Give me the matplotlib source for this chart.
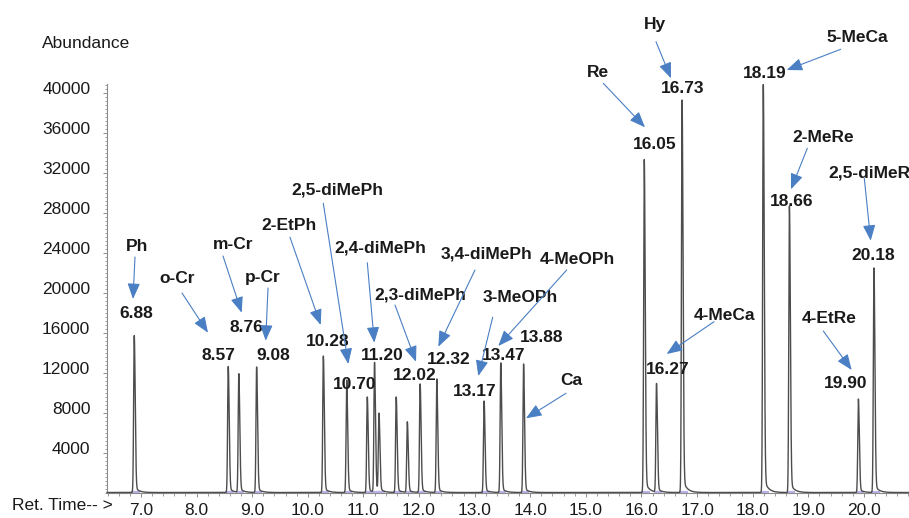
import numpy as np
import matplotlib
matplotlib.use("Agg")
import matplotlib.pyplot as plt
from matplotlib.transforms import ScaledTranslation
from matplotlib.ticker import MultipleLocator, FixedLocator

# ---------------- data ----------------
ret_times = [6.88, 8.57, 8.76, 9.08, 10.28, 10.70, 11.07, 11.20, 11.28, 11.59,
             11.79, 12.02, 12.32, 13.17, 13.47, 13.88, 16.05, 16.27, 16.73,
             18.19, 18.66, 19.90, 20.18]
abundances = [15700, 12600, 11850, 12550, 13650, 11250, 9550, 12950, 7750, 9550,
              7050, 10850, 11350, 9150, 12950, 12850, 33300, 10850, 39250,
              40800, 28650, 9350, 22450]

compounds = ["Ph", "o-Cr", "m-Cr", "p-Cr", "2-EtPh", "2,5-diMePh", "2,4-diMePh",
             "2,3-diMePh", "3,4-diMePh", "3-MeOPh", "4-MeOPh", "Ca", "Re",
             "4-MeCa", "Hy", "5-MeCa", "2-MeRe", "4-EtRe", "2,5-diMeR"]
compound_rt = [6.88, 8.57, 8.76, 9.08, 10.28, 10.70, 11.20, 12.02, 12.32, 13.17,
               13.47, 13.88, 16.05, 16.27, 16.73, 18.19, 18.66, 19.90, 20.18]

y_ticks = [4000, 8000, 12000, 16000, 20000, 24000, 28000, 32000, 36000, 40000]
x_ticks = [7.0, 8.0, 9.0, 10.0, 11.0, 12.0, 13.0, 14.0, 15.0, 16.0, 17.0, 18.0, 19.0, 20.0]

# ---------------- layout (reference pixel positions) ----------------
# name centre, number centre, arrow start, arrow tip
layout = [
    ((137, 245), (136.7, 311.7), (135, 257), (133, 299)),
    ((177, 277), (218.3, 353.3), (182, 293), (208, 332.7)),
    ((233, 243), (246, 326), (223, 256), (241.7, 312.7)),
    ((263, 276), (273, 353.3), (268, 288), (265.7, 340.7)),
    ((289, 224), (328, 339.3), (290, 237.3), (320.7, 325)),
    ((337, 188), (355, 382.7), (323.3, 203.3), (348.3, 364)),
    ((380, 246.7), (382, 353.3), (367.3, 262.7), (374.3, 342.7)),
    ((420, 293.3), (415, 373.3), (395, 305), (416, 361.7)),
    ((486.7, 252.7), (448.3, 358.3), (475, 270), (438.3, 346.7)),
    ((520.5, 296), (475, 389.3), (492.7, 317.3), (478.3, 376)),
    ((577.5, 258.3), (504, 354.3), (566.7, 270), (498.3, 346)),
    ((571, 379), (541.3, 336), (566, 393.3), (526, 418.3)),
    ((597.5, 70.7), (655, 142.7), (603.3, 83.3), (645, 127.3)),
    ((725, 313.3), (667.8, 367.3), (714, 321.7), (666.7, 354)),
    ((655, 23.3), (682.7, 86.7), (656, 41.7), (671, 78.3)),
    ((857, 36), (764.3, 71.7), (840.7, 49.3), (786.7, 70)),
    ((823.5, 136), (791.3, 199.3), (807.3, 148.3), (791, 189.3)),
    ((829.5, 316.7), (846, 381.7), (823.3, 331), (851.7, 370)),
    ((869, 171.7), (873, 253.3), (864.3, 178.3), (870.7, 240.7)),
]

W, H, DPI = 909, 518, 100
XMIN, XMAX = 6.39, 20.81
YMIN, YMAX = 0, 40850
AX_L, AX_B, AX_T = 107, 492.5, 84   # pixel positions of axes edges


def P(px, py):
    """reference pixel -> data coordinates"""
    x = XMIN + (px - AX_L) / (W - AX_L) * (XMAX - XMIN)
    y = YMIN + (AX_B - py) / (AX_B - AX_T) * (YMAX - YMIN)
    return x, y


plt.rcParams["font.family"] = ["Liberation Sans", "DejaVu Sans"]
fig = plt.figure(figsize=(W / DPI, H / DPI), dpi=DPI)
fig.patch.set_facecolor("white")
ax = fig.add_axes([AX_L / W, (H - AX_B) / H, 1 - AX_L / W, (AX_B - AX_T) / H])

# chromatogram trace built from the peak table
t = np.linspace(XMIN, XMAX, 30000)
trace = np.zeros_like(t)
for rt, h in zip(ret_times, abundances):
    d = t - rt
    left = np.exp(-0.5 * (d / 0.011) ** 2)
    right = np.exp(-0.5 * (d / 0.017) ** 2) * 0.96 + 0.04 * np.exp(-np.clip(d, 0, None) / 0.07)
    shape = np.where(d < 0, left, right)
    shape[d < -0.15] = 0
    shape[d > 0.4] = 0
    trace += h * shape
ax.plot(t, trace, color="#4d4d4d", lw=1.0, clip_on=False, zorder=3)

# faint integration markers at the baseline
for rt in ret_times:
    ax.plot([rt - 0.05, rt + 0.1], [60, 60], color="#b9b2e6", lw=1.6,
            solid_capstyle="butt", zorder=2, clip_on=False)

ax.set_xlim(XMIN, XMAX)
ax.set_ylim(YMIN, YMAX)

for s in ["top", "right"]:
    ax.spines[s].set_visible(False)
for s in ["left", "bottom"]:
    ax.spines[s].set_color("#8c8c8c")
    ax.spines[s].set_linewidth(0.8)

ax.xaxis.set_major_locator(FixedLocator(x_ticks))
ax.xaxis.set_minor_locator(MultipleLocator(0.2))
ax.set_xticklabels([f"{v:.1f}" for v in x_ticks])
ax.yaxis.set_major_locator(FixedLocator(y_ticks))
ax.yaxis.set_minor_locator(MultipleLocator(400))
ax.set_yticklabels([str(v) for v in y_ticks])

ax.tick_params(axis="x", which="major", length=3, width=0.7, color="#8c8c8c",
               pad=4.5, labelsize=12.5, labelcolor="#1a1a1a")
ax.tick_params(axis="x", which="minor", length=2, width=0.6, color="#8c8c8c")
ax.tick_params(axis="y", which="major", length=3, width=0.7, color="#8c8c8c",
               pad=9, labelsize=12.5, labelcolor="#1a1a1a")
ax.tick_params(axis="y", which="minor", length=1.6, width=0.6, color="#8c8c8c")

offset = ScaledTranslation(0, 5 / DPI, fig.dpi_scale_trans)
for lab in ax.get_yticklabels():
    lab.set_transform(lab.get_transform() + offset)

fig.text(86 / W, 1 - 44 / H, "Abundance", ha="center", va="center",
         fontsize=12.5, color="#1a1a1a")
fig.text(62.5 / W, 1 - 505 / H, "Ret. Time-- >", ha="center", va="center",
         fontsize=12.5, color="#1a1a1a")

ARROW_C = "#4a7fc4"
CAP = 6.2  # half cap height in px, to go from visual centre to baseline
for name, rt, (npos, rpos, a0, a1) in zip(compounds, compound_rt, layout):
    nx, ny = P(npos[0], npos[1] + CAP)
    ax.text(nx, ny, name, ha="center", va="baseline", fontsize=12.5,
            fontweight="bold", color="#1a1a1a", clip_on=False, zorder=5)
    rx, ry = P(rpos[0], rpos[1] + CAP)
    ax.text(rx, ry, f"{rt:.2f}", ha="center", va="baseline", fontsize=12.5,
            fontweight="bold", color="#1a1a1a", clip_on=False, zorder=5)
    ax.annotate("", xy=P(*a1), xytext=P(*a0), annotation_clip=False,
                arrowprops=dict(arrowstyle="-|>,head_length=0.8,head_width=0.32",
                                mutation_scale=12, color=ARROW_C, lw=0.8,
                                shrinkA=0, shrinkB=0), zorder=6)

fig.savefig("out.png", dpi=DPI, facecolor="white")
